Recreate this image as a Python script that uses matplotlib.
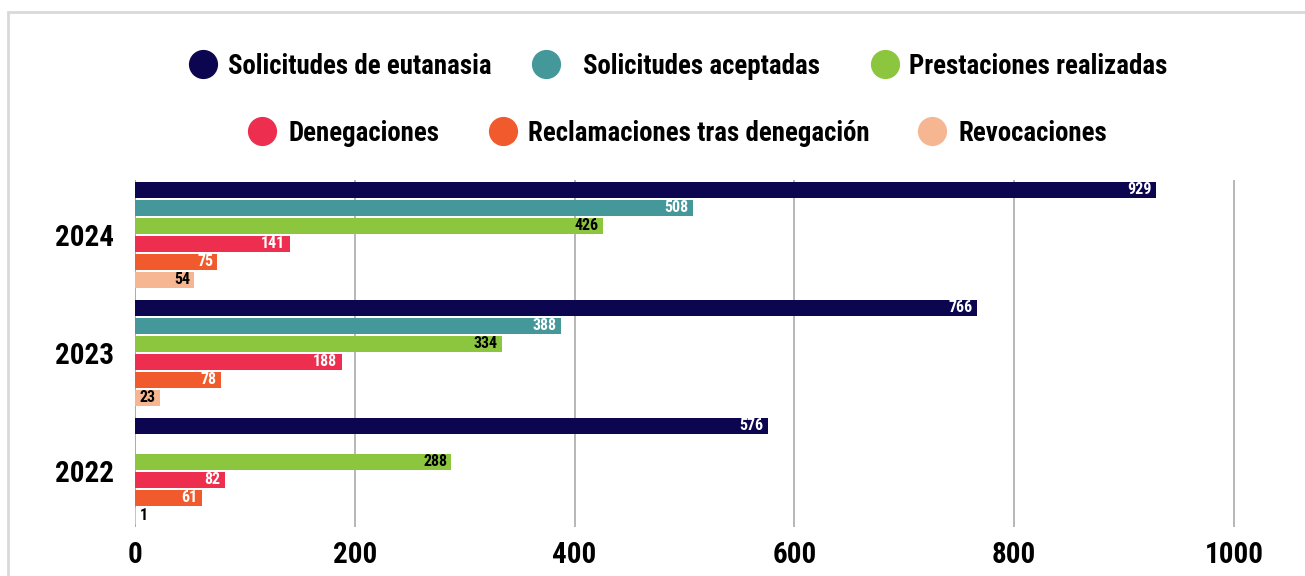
import matplotlib
matplotlib.use("Agg")
import matplotlib.pyplot as plt
from matplotlib.lines import Line2D
from matplotlib.patches import Rectangle

plt.rcParams['font.family'] = ['Roboto Condensed', 'Roboto', 'DejaVu Sans']

years = ['2024', '2023', '2022']
series = ['Solicitudes de eutanasia', 'Solicitudes aceptadas', 'Prestaciones realizadas',
          'Denegaciones', 'Reclamaciones tras denegación', 'Revocaciones']
solicitudes = [929, 766, 576]
aceptadas = [508, 388, None]
prestaciones = [426, 334, 288]
denegaciones = [141, 188, 82]
reclamaciones = [75, 78, 61]
revocaciones = [54, 23, 1]
values = [solicitudes, aceptadas, prestaciones, denegaciones, reclamaciones, revocaciones]
colors = ['#0c0650', '#45989a', '#8cc63f', '#ee2e4e', '#f05a2c', '#f7b692']
label_colors = ['white', 'white', 'black', 'white', 'white', 'black']

fig = plt.figure(figsize=(13.05, 5.76), dpi=100)
ax = fig.add_axes([135 / 1305, 1 - 527 / 576, 1100 / 1305, 347 / 576])

step = 0.1525
bh = 0.142
for i, (vals, c, lc) in enumerate(zip(values, colors, label_colors)):
    for g, v in enumerate(vals):
        if v is None:
            continue
        y = g + (i - 2.5) * step
        ax.barh(y, v, height=bh, color=c, zorder=3)
        if v < 10:
            ax.text(v + 3, y, str(v), ha='left', va='center', fontsize=11.5,
                    fontweight='bold', color='black', zorder=4)
        else:
            ax.text(v - 4, y, str(v), ha='right', va='center', fontsize=11.5,
                    fontweight='bold', color=lc, zorder=4)

ax.set_xlim(0, 1001)
ax.set_ylim(2.475, -0.466)
ax.set_xticks([0, 200, 400, 600, 800, 1000])
ax.set_yticks(range(len(years)))
ax.set_yticklabels(years)
ax.tick_params(axis='both', length=0, labelsize=21)
ax.tick_params(axis='x', pad=10)
ax.tick_params(axis='y', pad=15)
for lab in ax.get_xticklabels() + ax.get_yticklabels():
    lab.set_fontweight('bold')
ax.grid(axis='x', color='#aaaaaa', lw=1.2, zorder=0)
ax.axvline(0, color='#aaaaaa', lw=1.2, zorder=0)
for s in ax.spines.values():
    s.set_visible(False)

# legend, two centred rows
rows = [[0, 1, 2], [3, 4, 5]]
row_pos = [[(203, 228), (546, 583), (885, 909)],
           [(262, 288), (503, 528), (932, 958)]]
row_y = [64, 131]
for r, idxs in enumerate(rows):
    yy = 1 - row_y[r] / 576
    for k, i in enumerate(idxs):
        mx, tx = row_pos[r][k]
        fig.add_artist(Line2D([mx / 1305], [yy], marker='o', markersize=20,
                              color=colors[i], transform=fig.transFigure))
        fig.text(tx / 1305, yy - 2.5 / 576, series[i], ha='left', va='center',
                 fontsize=19.4, fontweight='bold')

fig.add_artist(Rectangle((8 / 1305, -0.1), 1.2, 1.1 - 12 / 576, fill=False,
                         edgecolor='#d9d9d9', lw=2, transform=fig.transFigure))

fig.savefig('out.png', dpi=100)
